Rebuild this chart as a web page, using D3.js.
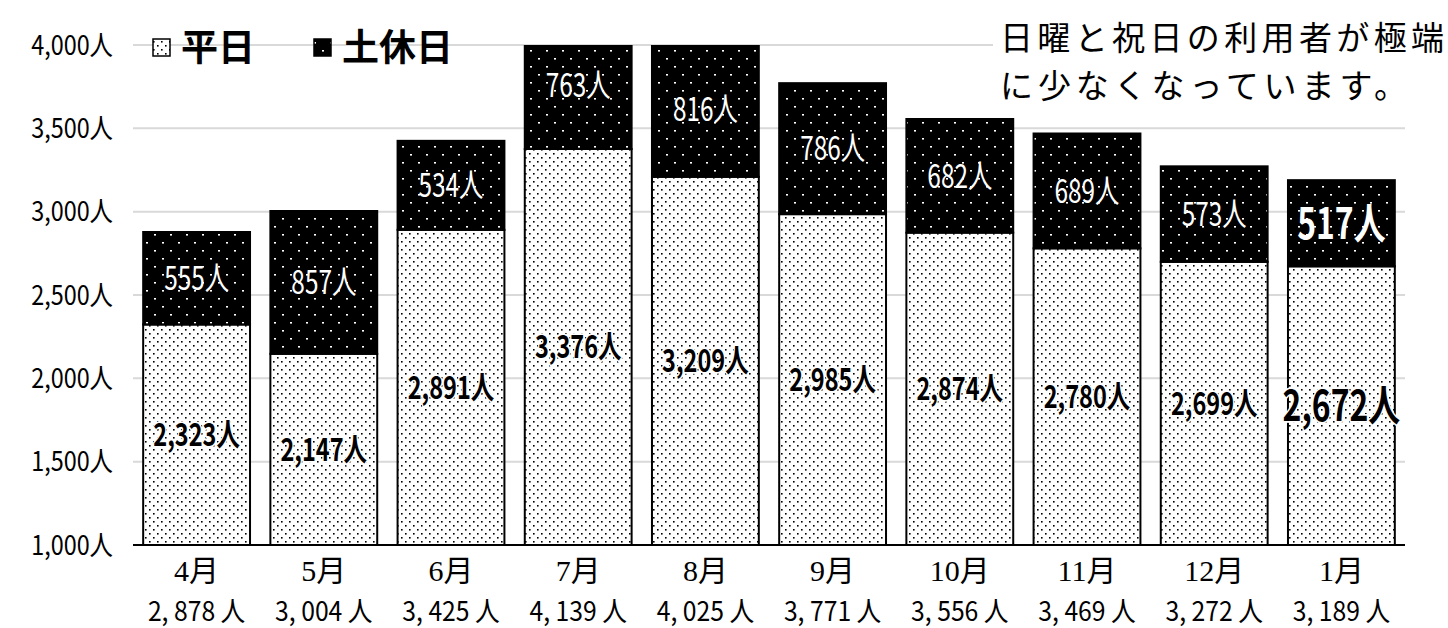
<!DOCTYPE html>
<html>
<head>
<meta charset="utf-8">
<script src="https://cdn.jsdelivr.net/npm/d3@7"></script>
<style>
  html, body { margin: 0; padding: 0; background: #fff; }
  svg { display: block; font-family: "Noto Sans CJK JP", sans-serif; }
</style>
</head>
<body>
<div id="chart"></div>
<script>
// データ
var months = ['4月', '5月', '6月', '7月', '8月', '9月', '10月', '11月', '12月', '1月'];
var weekday = [2323, 2147, 2891, 3376, 3209, 2985, 2874, 2780, 2699, 2672];
var holiday = [555, 857, 534, 763, 816, 786, 682, 689, 573, 517];
var totals = [2878, 3004, 3425, 4139, 4025, 3771, 3556, 3469, 3272, 3189];
var yTicks = [1000, 1500, 2000, 2500, 3000, 3500, 4000];
var seriesNames = ['平日', '土休日'];
var note = ['日曜と祝日の利用者が極端', 'に少なくなっています。'];

var width = 1448, height = 628;
var svg, x, y, defs, plot;

svg = d3.select('#chart').append('svg')
  .attr('width', width)
  .attr('height', height);

// 模様
defs = svg.append('defs');
var pw = defs.append('pattern')
  .attr('id', 'dotW')
  .attr('patternUnits', 'userSpaceOnUse')
  .attr('width', 8).attr('height', 8);
pw.append('rect').attr('width', 8).attr('height', 8).attr('fill', '#fff');
pw.append('rect').attr('x', 1).attr('y', 1).attr('width', 1.6).attr('height', 1.6).attr('fill', '#000');
pw.append('rect').attr('x', 5).attr('y', 5).attr('width', 1.6).attr('height', 1.6).attr('fill', '#000');

var pb = defs.append('pattern')
  .attr('id', 'dotB')
  .attr('patternUnits', 'userSpaceOnUse')
  .attr('width', 16).attr('height', 16);
pb.append('rect').attr('width', 16).attr('height', 16).attr('fill', '#000');
pb.append('rect').attr('x', 2).attr('y', 2).attr('width', 2).attr('height', 1.6).attr('fill', '#fff');
pb.append('rect').attr('x', 10).attr('y', 10).attr('width', 2).attr('height', 1.6).attr('fill', '#fff');

// 目盛り
x = d3.scaleBand()
  .domain(months)
  .range([133, 1405])
  .paddingInner(0.16)
  .paddingOuter(0.08);
y = d3.scaleLinear()
  .domain([1000, 4000])
  .range([545, 45]);

defs.append('clipPath').attr('id', 'plotClip')
  .append('rect')
  .attr('x', 0).attr('y', y(4000))
  .attr('width', width).attr('height', y(1000) - y(4000));

// 補助線
svg.append('g').selectAll('line')
  .data(yTicks.slice(1))
  .enter()
  .append('line')
  .attr('x1', 133).attr('x2', 1405)
  .attr('y1', function (d) { return y(d); })
  .attr('y2', function (d) { return y(d); })
  .attr('stroke', '#d9d9d9')
  .attr('stroke-width', 2);

svg.append('g').selectAll('text')
  .data(yTicks)
  .enter()
  .append('text')
  .attr('transform', function (d) { return 'translate(113,' + y(d) + ') scale(0.9,1.05)'; })
  .attr('dy', '0.36em')
  .attr('text-anchor', 'end')
  .attr('font-size', 26)
  .attr('fill', '#000')
  .text(function (d) { return d3.format(',')(d) + '人'; });

// 棒
plot = svg.append('g').attr('clip-path', 'url(#plotClip)');
plot.selectAll('rect.wd')
  .data(months)
  .enter()
  .append('rect')
  .attr('class', 'wd')
  .attr('x', function (d) { return x(d); })
  .attr('width', x.bandwidth())
  .attr('y', function (d, i) { return y(weekday[i]); })
  .attr('height', function (d, i) { return y(1000) - y(weekday[i]); })
  .attr('fill', 'url(#dotW)')
  .attr('stroke', '#000')
  .attr('stroke-width', 2);
plot.selectAll('rect.hd')
  .data(months)
  .enter()
  .append('rect')
  .attr('class', 'hd')
  .attr('x', function (d) { return x(d); })
  .attr('width', x.bandwidth())
  .attr('y', function (d, i) { return y(totals[i]); })
  .attr('height', function (d, i) { return y(weekday[i]) - y(totals[i]); })
  .attr('fill', 'url(#dotB)')
  .attr('stroke', '#000')
  .attr('stroke-width', 2);

// 軸線
svg.append('line')
  .attr('x1', 133).attr('x2', 1405)
  .attr('y1', y(1000)).attr('y2', y(1000))
  .attr('stroke', '#000')
  .attr('stroke-width', 2);

// 値ラベル（縦長の書体に寄せる）
var last = months.length - 1;
function cx(d) { return x(d) + x.bandwidth() / 2; }

svg.append('g').selectAll('text')
  .data(months)
  .enter()
  .append('text')
  .attr('transform', function (d, i) {
    return 'translate(' + cx(d) + ',' + (y(1000) + y(weekday[i])) / 2 + ') scale(0.84,1.12)';
  })
  .attr('dy', '0.36em')
  .attr('text-anchor', 'middle')
  .attr('font-weight', 'bold')
  .attr('font-size', function (d, i) { return i === last ? 38 : 28; })
  .attr('fill', '#000')
  .attr('stroke', '#fff')
  .attr('stroke-width', 3)
  .attr('paint-order', 'stroke')
  .text(function (d, i) { return d3.format(',')(weekday[i]) + '人'; });

svg.append('g').selectAll('text')
  .data(months)
  .enter()
  .append('text')
  .attr('transform', function (d, i) {
    return 'translate(' + cx(d) + ',' + (y(weekday[i]) + y(totals[i])) / 2 + ') scale(0.84,1.12)';
  })
  .attr('dy', '0.36em')
  .attr('text-anchor', 'middle')
  .attr('font-weight', function (d, i) { return i === last ? 'bold' : 'normal'; })
  .attr('font-size', function (d, i) { return i === last ? 38 : 29; })
  .attr('fill', '#fff')
  .text(function (d, i) { return holiday[i] + '人'; });

// 月ラベル
svg.append('g').selectAll('text')
  .data(months)
  .enter()
  .append('text')
  .attr('x', cx)
  .attr('y', 570)
  .attr('dy', '0.36em')
  .attr('text-anchor', 'middle')
  .attr('font-family', '"Liberation Serif", "Noto Sans CJK JP", serif')
  .attr('font-size', 30)
  .attr('fill', '#000')
  .text(function (d) { return d; });

svg.append('g').selectAll('text')
  .data(months)
  .enter()
  .append('text')
  .attr('transform', function (d) { return 'translate(' + cx(d) + ',611) scale(0.95,1.05)'; })
  .attr('dy', '0.36em')
  .attr('text-anchor', 'middle')
  .attr('font-size', 26)
  .attr('fill', '#000')
  .text(function (d, i) { return d3.format(',')(totals[i]).replace(',', ', ') + ' 人'; });

// 凡例
var legend = svg.append('g');
var lx = [153, 314];
legend.selectAll('rect')
  .data(seriesNames)
  .enter()
  .append('rect')
  .attr('x', function (d, i) { return lx[i]; })
  .attr('y', 39)
  .attr('width', 17).attr('height', 17)
  .attr('fill', function (d, i) { return i === 0 ? 'url(#dotW)' : 'url(#dotB)'; })
  .attr('stroke', '#000')
  .attr('stroke-width', 1.5);
legend.selectAll('text')
  .data(seriesNames)
  .enter()
  .append('text')
  .attr('x', function (d, i) { return lx[i] + 28; })
  .attr('y', 48)
  .attr('dy', '0.36em')
  .attr('font-size', 37)
  .attr('font-weight', 'bold')
  .attr('fill', '#000')
  .text(function (d) { return d; });

// 注記（2行）
svg.append('rect')
  .attr('x', 993).attr('y', 8)
  .attr('width', width - 993).attr('height', 102)
  .attr('fill', '#fff');
svg.append('g').selectAll('text')
  .data(note)
  .enter()
  .append('text')
  .attr('x', 1000)
  .attr('y', function (d, i) { return 50 + i * 48; })
  .attr('font-size', 33)
  .attr('textLength', function (d, i) { return i === 0 ? 444 : 407; })
  .attr('fill', '#000')
  .text(function (d) { return d; });
</script>
</body>
</html>
